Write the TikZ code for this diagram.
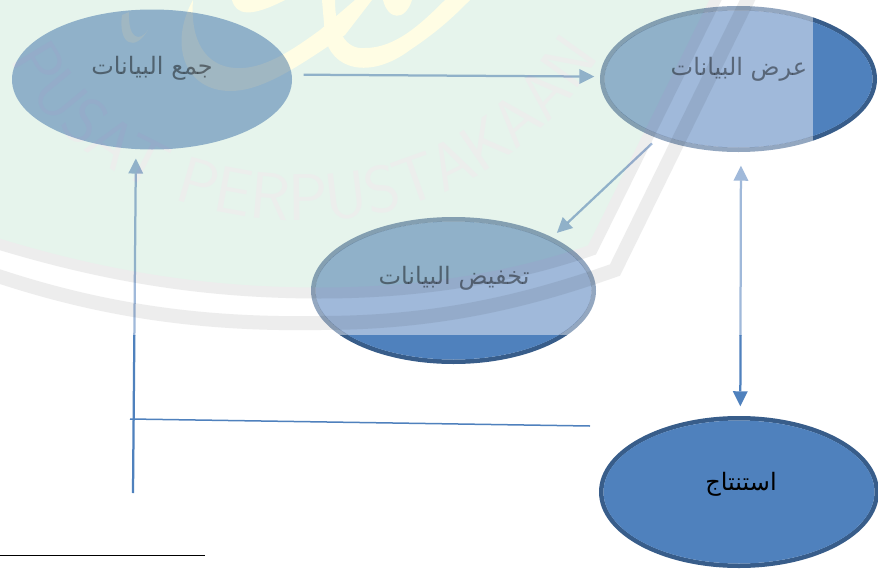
\documentclass[tikz,border=0pt]{standalone}
\usepackage{fontspec}
\usetikzlibrary{shapes.geometric,arrows.meta,decorations.text}
\newfontfamily\arabicfont[Script=Arabic]{DejaVu Sans}
\TeXXeTstate=1
\definecolor{fullfill}{HTML}{4F81BD}
\definecolor{fulledge}{HTML}{385D8A}
\definecolor{fadefill}{HTML}{A0B9DA}
\definecolor{fadeedge}{HTML}{93A7C0}
\definecolor{fadetext}{HTML}{8E8E8E}
\definecolor{wmgreen}{HTML}{E6F4EC}
\definecolor{wmgray}{HTML}{EDEDED}
\definecolor{wmyellow}{HTML}{FFFDE4}
\definecolor{wmtext}{HTML}{ECEEEC}
\tikzset{
  x=1pt,y=-1pt,
  ringed/.style={ellipse,draw=cedge,line width=4.5pt,inner sep=0pt,outer sep=0pt},
  plain/.style={ellipse,inner sep=0pt,outer sep=0pt},
  stagetext/.style={font=\arabicfont\fontsize{24}{28}\selectfont,text=ctext,inner sep=0pt},
  hd/.tip={Triangle[length=15pt,width=15pt,line width=0pt]},
  link/.style={draw=cfill,line width=2.25pt,-hd},
  bothlink/.style={draw=cfill,line width=2.25pt,hd-hd},
  thinlink/.style={draw=cfill,line width=1.5pt},
}
\newcommand{\inner}[3]{\fill[cfill] (#1.center) ellipse [x radius=#2pt,y radius=#3pt];}
\newcommand{\diagramparts}{%
  \node[plain,minimum width=280pt,minimum height=140pt] (jam) at (152,79.5) {};
  \node[ringed,minimum width=272.5pt,minimum height=141.5pt] (ard) at (738.5,79) {};
  \node[ringed,minimum width=280.5pt,minimum height=142.5pt] (tak) at (453.5,290.5) {};
  \node[ringed,minimum width=275.5pt,minimum height=147.5pt] (nat) at (739,492) {};
  \inner{jam}{140}{70}
  \inner{ard}{134}{68.5}
  \inner{tak}{138}{69}
  \inner{nat}{135.5}{71.5}
  \node[stagetext] (tjam) at (152,68) {\beginR جمع البيانات\endR};
  \node[stagetext] (tard) at (739,69) {\beginR عرض البيانات\endR};
  \node[stagetext] (ttak) at (454,278) {\beginR تخفيض البيانات\endR};
  \node[stagetext] (tnat) at (741,484) {\beginR استنتاج\endR};
  \coordinate (loopstart) at (133,493);
  \coordinate (crossa) at (590,426);
  \coordinate (crossb) at (130,419);
  \coordinate (ruleL) at (0,555);
  \coordinate (ruleR) at (205,555);
  \draw[link,shorten <=12pt,shorten >=8pt] (jam.2) -- (ard.179);
  \draw[link,shorten <=10pt,shorten >=9pt] (ard.216.2) -- (tak.28.6);
  \draw[bothlink,shorten <=16pt,shorten >=12pt] (ard.272) -- (nat.89);
  \draw[link,shorten >=9.5pt] (loopstart) -- (jam.257.8);
  \draw[thinlink] (crossb) -- (crossa);
  \draw[black,line width=1pt] (ruleL) -- (ruleR);
}
\begin{document}
\begin{tikzpicture}
\useasboundingbox (0,0) rectangle (878,570);
\fill[white] (0,0) rectangle (878,570);
% watermark, beneath everything
\begin{scope}
  \clip (0,0) rectangle (813,335);
  \fill[wmgreen] (-5,-5) -- (-5,243) .. controls (100,275) and (200,293) .. (320,293)
     .. controls (430,293) and (520,275) .. (592,250) -- (718,-5) -- cycle;
  \fill[wmyellow] (122,15) .. controls (118,45) and (135,52) .. (148,30)
     .. controls (140,42) and (128,40) .. (129,12) -- cycle;
  \fill[wmyellow] (193,0) .. controls (168,45) and (185,92) .. (232,91)
     .. controls (265,90) and (300,65) .. (345,35) -- (372,0) -- (355,0) -- (320,30)
     .. controls (290,52) and (262,70) .. (235,68) .. controls (205,66) and (190,40) .. (193,0) -- cycle;
  \fill[wmyellow] (232,0) .. controls (236,15) and (250,18) .. (285,0) -- cycle;
  \fill[wmyellow] (322,0) -- (325,35) .. controls (330,70) and (370,80) .. (410,50)
     .. controls (440,30) and (455,15) .. (470,0) -- (445,0)
     .. controls (420,25) and (395,48) .. (365,48) .. controls (345,50) and (335,30) .. (335,0) -- cycle;
  \fill[wmyellow] (383,0) .. controls (388,20) and (405,22) .. (412,0) -- cycle;
  \draw[wmgray,line width=11pt] (-5,243) .. controls (100,275) and (200,293) .. (320,293)
     .. controls (430,293) and (520,275) .. (592,250) -- (718,-5);
  \draw[wmgray,line width=14pt] (-5,275) .. controls (100,310) and (200,325) .. (320,323)
     .. controls (440,323) and (530,300) .. (615,270) -- (750,-5);
  \path[decorate,decoration={text along path,
      text={|\fontsize{66}{66}\selectfont\sffamily\color{wmtext}|PUSAT PERPUSTAKAAN},
      text align={center}}]
     (-10,10) .. controls (40,170) and (190,225) .. (320,220) .. controls (460,215) and (570,130) .. (625,10);
\end{scope}
% washed-out part of the diagram
\begin{scope}[blend mode=multiply]
  \clip (0,0) rectangle (813,335);
  \colorlet{cfill}{fadefill}\colorlet{cedge}{fadeedge}\colorlet{ctext}{fadetext}
  \diagramparts
\end{scope}
% untouched part of the diagram
\begin{scope}
  \clip (813,0) rectangle (878,570) (0,335) rectangle (813,570);
  \colorlet{cfill}{fullfill}\colorlet{cedge}{fulledge}\colorlet{ctext}{black}
  \diagramparts
\end{scope}
\end{tikzpicture}
\end{document}
